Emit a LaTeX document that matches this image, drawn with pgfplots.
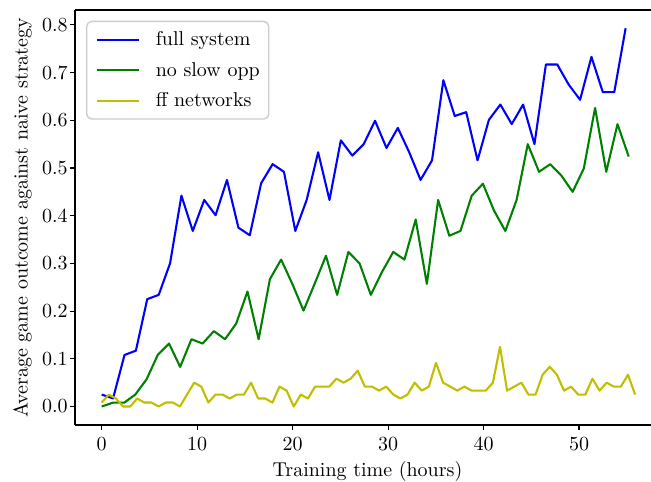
\documentclass[border=0pt]{standalone}
\usepackage{pgfplots}
\usepackage{pgfplotstable}
\pgfplotsset{compat=1.18}

\definecolor{fullblue}{rgb}{0,0,1}
\definecolor{slowgreen}{rgb}{0,0.5,0}
\definecolor{ffyellow}{rgb}{0.75,0.75,0}

% Average game outcome against the naive strategy, per checkpoint
\pgfplotstableread{
x y
0.00 0.025
1.19 0.017
2.39 0.108
3.58 0.117
4.77 0.225
5.97 0.234
7.16 0.300
8.35 0.442
9.54 0.368
10.74 0.433
11.93 0.401
13.12 0.475
14.32 0.375
15.51 0.359
16.70 0.468
17.90 0.508
19.09 0.492
20.28 0.368
21.47 0.433
22.67 0.533
23.86 0.433
25.05 0.558
26.25 0.526
27.44 0.550
28.63 0.599
29.83 0.542
31.02 0.584
32.21 0.533
33.40 0.475
34.60 0.516
35.79 0.684
36.98 0.609
38.18 0.617
39.37 0.516
40.56 0.601
41.76 0.633
42.95 0.592
44.14 0.633
45.33 0.550
46.53 0.717
47.72 0.717
48.91 0.675
50.11 0.643
51.30 0.733
52.49 0.659
53.69 0.659
54.88 0.793
}\fullsystem

\pgfplotstableread{
x y
0.00 0.000
1.17 0.008
2.35 0.008
3.52 0.025
4.70 0.057
5.87 0.108
7.05 0.132
8.22 0.083
9.40 0.141
10.57 0.132
11.75 0.158
12.92 0.141
14.09 0.174
15.27 0.241
16.44 0.141
17.62 0.267
18.79 0.308
19.97 0.257
21.14 0.201
22.32 0.258
23.49 0.316
24.66 0.234
25.84 0.324
27.01 0.300
28.19 0.234
29.36 0.282
30.54 0.324
31.71 0.308
32.89 0.392
34.06 0.257
35.24 0.433
36.41 0.358
37.58 0.368
38.76 0.442
39.93 0.467
41.11 0.410
42.28 0.368
43.46 0.433
44.63 0.550
45.81 0.492
46.98 0.508
48.15 0.484
49.33 0.450
50.50 0.499
51.68 0.626
52.85 0.492
54.03 0.592
55.20 0.524
}\noslowopp

\pgfplotstableread{
x y
0.000 0.0083
0.745 0.0250
1.490 0.0167
2.235 0.0000
2.980 0.0000
3.725 0.0167
4.470 0.0083
5.215 0.0083
5.960 0.0000
6.705 0.0083
7.450 0.0083
8.195 0.0000
8.940 0.0250
9.685 0.0500
10.430 0.0417
11.175 0.0083
11.920 0.0250
12.665 0.0250
13.410 0.0167
14.155 0.0250
14.900 0.0250
15.645 0.0500
16.390 0.0167
17.135 0.0167
17.880 0.0083
18.625 0.0417
19.370 0.0333
20.115 0.0000
20.860 0.0250
21.605 0.0167
22.350 0.0417
23.095 0.0417
23.840 0.0417
24.585 0.0583
25.330 0.0500
26.075 0.0583
26.820 0.0750
27.565 0.0417
28.310 0.0417
29.055 0.0333
29.800 0.0417
30.545 0.0250
31.290 0.0167
32.035 0.0250
32.780 0.0500
33.525 0.0333
34.270 0.0417
35.015 0.0917
35.760 0.0500
36.505 0.0417
37.250 0.0333
37.995 0.0417
38.740 0.0333
39.485 0.0333
40.230 0.0333
40.975 0.0500
41.720 0.1250
42.465 0.0333
43.210 0.0417
43.955 0.0500
44.700 0.0250
45.445 0.0250
46.190 0.0667
46.935 0.0833
47.680 0.0667
48.425 0.0333
49.170 0.0417
49.915 0.0250
50.660 0.0250
51.405 0.0583
52.150 0.0333
52.895 0.0500
53.640 0.0417
54.385 0.0417
55.130 0.0667
55.875 0.0250
}\ffnetworks

\begin{document}
\begin{tikzpicture}
\useasboundingbox (-37.5pt,-28pt) rectangle (288pt,212.5pt);
\begin{axis}[
  scale only axis,
  width=288pt, height=207.5pt,
  xmin=-2.797, xmax=57.54,
  ymin=-0.0388, ymax=0.8312,
  axis x line=box, axis y line=left,
  x axis line style={-}, y axis line style={-},
  axis line style={line width=0.55pt, black},
  tick align=outside, tick pos=left,
  major tick length=2.43pt,
  every tick/.style={line width=0.55pt, black},
  xtick={0,10,20,30,40,50},
  ytick={0,0.1,0.2,0.3,0.4,0.5,0.6,0.7,0.8},
  xticklabel style={anchor=base, inner sep=0pt, yshift=-10.42pt},
  yticklabel style={anchor=east, inner sep=0pt, xshift=-1.07pt,
    /pgf/number format/fixed, /pgf/number format/fixed zerofill,
    /pgf/number format/precision=1},
  xlabel={Training time (hours)},
  ylabel={Average game outcome against naive strategy},
  xlabel style={at={(axis description cs:0.5078,-0.1246)}, anchor=base},
  ylabel style={at={(axis description cs:-0.0911,0.5)}, anchor=center},
  legend cell align=left,
  legend image code/.code={\draw[#1] (0pt,0pt) -- (21.35pt,0pt);},
  legend style={
    at={(axis description cs:0.0191,0.9742)}, anchor=north west,
    draw=black!20, line width=0.7pt, rounded corners=2.5pt,
    fill=white, fill opacity=0.8, text opacity=1,
    inner xsep=4.5pt, inner ysep=3.65pt,
    nodes={inner sep=0pt, text height=8.5pt, text depth=2.5pt},
    row sep=4.25pt, column sep=7.65pt,
  },
  every axis plot/.append style={line width=1.04pt, line join=round},
]
\addplot[fullblue] table[x=x, y=y] {\fullsystem};
\addlegendentry{full system}
\addplot[slowgreen] table[x=x, y=y] {\noslowopp};
\addlegendentry{no slow opp}
\addplot[ffyellow] table[x=x, y=y] {\ffnetworks};
\addlegendentry{ff networks}
\end{axis}
\end{tikzpicture}
\end{document}
